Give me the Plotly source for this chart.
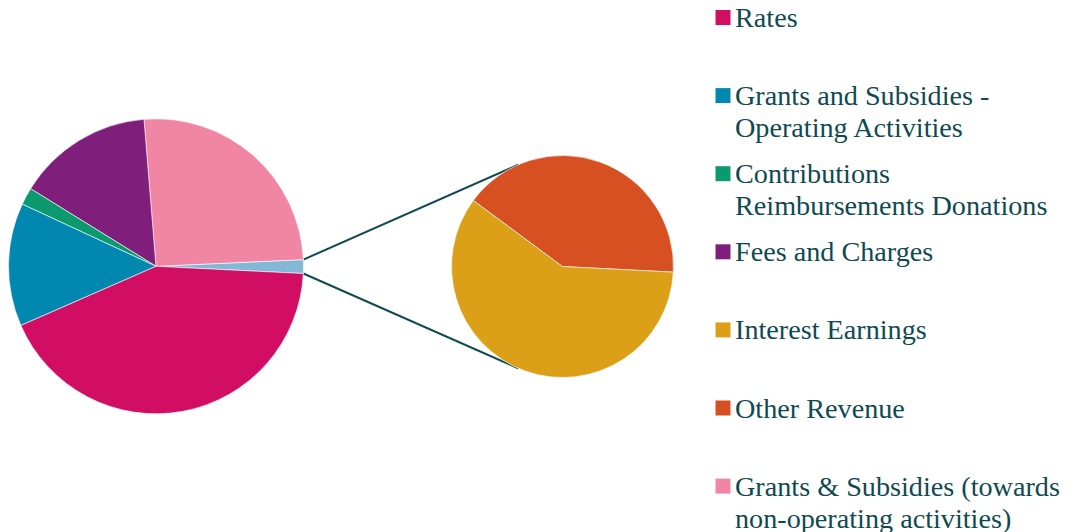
import math
import plotly.graph_objects as go

# ---- data (percent of total revenue) ----
main_labels = ["Other (Interest + Other Revenue)", "Grants & Subsidies (towards non-operating activities)",
               "Fees and Charges", "Contributions Reimbursements Donations",
               "Grants and Subsidies - Operating Activities", "Rates"]
main_values_named = [25.6, 14.9, 1.9, 13.5, 42.7]
sub_labels = ["Other Revenue", "Interest Earnings"]
sub_values = [0.61, 0.89]

legend_labels = [
    ["Rates"],
    ["Grants and Subsidies -", "Operating Activities"],
    ["Contributions", "Reimbursements Donations"],
    ["Fees and Charges"],
    ["Interest Earnings"],
    ["Other Revenue"],
    ["Grants & Subsidies (towards", "non-operating activities)"],
]
legend_colors = ["#D10E64", "#0088B0", "#0A9A6E", "#7F1F7B", "#DCA018", "#D65022", "#F185A4"]

main_colors = ["#82B8D6", "#F185A4", "#7F1F7B", "#0A9A6E", "#0088B0", "#D10E64"]
sub_colors = ["#D65022", "#DCA018"]

main_values = [sum(sub_values)] + main_values_named

W, H = 1068, 532
OFF = 8  # page body margin
TEXT = "#0F4A52"

# geometry (target-picture pixels)
mcx, mcy, mr = 156.0 - OFF, 266.3 - OFF, 147.5
scx, scy, sr = 562.5 - OFF, 266.5 - OFF, 111.0
main_start = -2.8   # math angle (deg) where the first slice begins, going counterclockwise
sub_start = -2.9

main_frac = main_values[0] / sum(main_values)
sub_frac = sub_values[0] / sum(sub_values)
# plotly: with counterclockwise direction, first slice spans [rotation, rotation + size] clockwise from 12 o'clock
main_rot = (90 - main_start) - 360 * main_frac
sub_rot = (90 - sub_start) - 360 * sub_frac

def px_to_paper(x, y):
    return x / W, 1 - y / H

fig = go.Figure()
fig.add_trace(go.Pie(
    labels=main_labels, values=main_values, sort=False, direction="counterclockwise",
    rotation=main_rot, marker=dict(colors=main_colors, line=dict(color="white", width=0.6)),
    textinfo="none", hoverinfo="label+percent", showlegend=False,
    domain=dict(x=[(mcx - mr) / W, (mcx + mr) / W], y=[1 - (mcy + mr) / H, 1 - (mcy - mr) / H]),
))
fig.add_trace(go.Pie(
    labels=sub_labels, values=sub_values, sort=False, direction="counterclockwise",
    rotation=sub_rot, marker=dict(colors=sub_colors, line=dict(color="white", width=0.6)),
    textinfo="none", hoverinfo="label+percent", showlegend=False,
    domain=dict(x=[(scx - sr) / W, (scx + sr) / W], y=[1 - (scy + sr) / H, 1 - (scy - sr) / H]),
))

# connector lines from the combined slice to the secondary pie
a0 = math.radians(main_start)
a1 = a0 + 2 * math.pi * main_frac
sec_angle = math.radians(113.6)
starts = [(mcx + mr * math.cos(a1), mcy - mr * math.sin(a1)),
          (mcx + mr * math.cos(a0), mcy - mr * math.sin(a0))]
ends = [(scx + sr * math.cos(sec_angle), scy - sr * math.sin(sec_angle)),
        (scx + sr * math.cos(-sec_angle), scy - sr * math.sin(-sec_angle))]
shapes = []
for (x0, y0), (x1, y1) in zip(starts, ends):
    p0 = px_to_paper(x0, y0)
    p1 = px_to_paper(x1, y1)
    shapes.append(dict(type="line", xref="paper", yref="paper", x0=p0[0], y0=p0[1], x1=p1[0], y1=p1[1],
                       line=dict(color="#0D4A52", width=2), layer="below"))

# custom legend
annotations = []
sq = 15
lx_sq_right = 730.5 - OFF
lx_text = 733 - OFF
y0_leg = 17.5 - OFF
step = 78.1
line_gap = 32
for i, (lines, col) in enumerate(zip(legend_labels, legend_colors)):
    cy = y0_leg + step * i
    shapes.append(dict(type="rect", xref="paper", yref="paper",
                       x0=(lx_sq_right - sq) / W, x1=lx_sq_right / W,
                       y0=1 - (cy + sq / 2) / H, y1=1 - (cy - sq / 2) / H,
                       fillcolor=col, line=dict(width=0)))
    for j, t in enumerate(lines):
        annotations.append(dict(xref="paper", yref="paper", x=lx_text / W, y=1 - (cy + j * line_gap) / H,
                                xanchor="left", yanchor="middle", text=t, showarrow=False,
                                font=dict(family="Liberation Serif", size=28.2, color=TEXT)))

fig.update_layout(
    width=W, height=H, margin=dict(l=0, r=0, t=0, b=0),
    paper_bgcolor="white", plot_bgcolor="white",
    shapes=shapes, annotations=annotations, showlegend=False,
)
fig.write_html("out.html")
